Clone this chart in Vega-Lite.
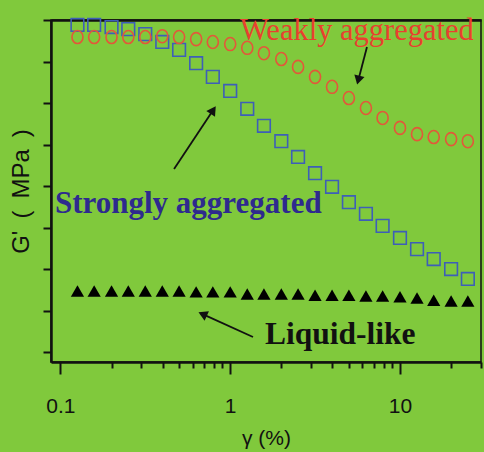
{
  "$schema": "https://vega.github.io/schema/vega-lite/v6.json",
  "autosize": {"type": "none"},
  "padding": {"left": 51, "top": 20, "right": 3, "bottom": 90},
  "width": 430,
  "height": 342,
  "background": "#80c93c",
  "config": {
    "view": {"stroke": "#111", "strokeWidth": 1.5},
    "axis": {"grid": false, "domainColor": "#111", "tickColor": "#111"}
  },
  "datasets": {
    "strong": [
      {"strain": 0.126, "G": 7.88}, {"strain": 0.158, "G": 7.88}, {"strain": 0.2, "G": 7.83},
      {"strain": 0.251, "G": 7.78}, {"strain": 0.316, "G": 7.66}, {"strain": 0.398, "G": 7.47},
      {"strain": 0.5, "G": 7.28}, {"strain": 0.63, "G": 6.96}, {"strain": 0.79, "G": 6.63},
      {"strain": 1.0, "G": 6.29}, {"strain": 1.26, "G": 5.86}, {"strain": 1.58, "G": 5.45},
      {"strain": 2.0, "G": 5.08}, {"strain": 2.51, "G": 4.7}, {"strain": 3.16, "G": 4.31},
      {"strain": 3.98, "G": 3.98}, {"strain": 5.0, "G": 3.61}, {"strain": 6.3, "G": 3.33},
      {"strain": 7.9, "G": 3.04}, {"strain": 10.0, "G": 2.75}, {"strain": 12.6, "G": 2.48},
      {"strain": 15.8, "G": 2.24}, {"strain": 20.0, "G": 2.0}, {"strain": 25.1, "G": 1.76}
    ],
    "weak": [
      {"strain": 0.126, "G": 7.59}, {"strain": 0.158, "G": 7.59}, {"strain": 0.2, "G": 7.59},
      {"strain": 0.251, "G": 7.59}, {"strain": 0.316, "G": 7.59}, {"strain": 0.398, "G": 7.61},
      {"strain": 0.5, "G": 7.59}, {"strain": 0.63, "G": 7.54}, {"strain": 0.79, "G": 7.47},
      {"strain": 1.0, "G": 7.42}, {"strain": 1.26, "G": 7.33}, {"strain": 1.58, "G": 7.2},
      {"strain": 2.0, "G": 7.06}, {"strain": 2.51, "G": 6.87}, {"strain": 3.16, "G": 6.63},
      {"strain": 3.98, "G": 6.39}, {"strain": 5.0, "G": 6.12}, {"strain": 6.3, "G": 5.88},
      {"strain": 7.9, "G": 5.64}, {"strain": 10.0, "G": 5.4}, {"strain": 12.6, "G": 5.25},
      {"strain": 15.8, "G": 5.18}, {"strain": 20.0, "G": 5.13}, {"strain": 25.1, "G": 5.08}
    ],
    "liquid": [
      {"strain": 0.126, "G": 1.47}, {"strain": 0.158, "G": 1.47}, {"strain": 0.2, "G": 1.47},
      {"strain": 0.251, "G": 1.47}, {"strain": 0.316, "G": 1.47}, {"strain": 0.398, "G": 1.47},
      {"strain": 0.5, "G": 1.47}, {"strain": 0.63, "G": 1.45}, {"strain": 0.79, "G": 1.45},
      {"strain": 1.0, "G": 1.45}, {"strain": 1.26, "G": 1.4}, {"strain": 1.58, "G": 1.4},
      {"strain": 2.0, "G": 1.4}, {"strain": 2.51, "G": 1.4}, {"strain": 3.16, "G": 1.37},
      {"strain": 3.98, "G": 1.37}, {"strain": 5.0, "G": 1.37}, {"strain": 6.3, "G": 1.35},
      {"strain": 7.9, "G": 1.35}, {"strain": 10.0, "G": 1.33}, {"strain": 12.6, "G": 1.3},
      {"strain": 15.8, "G": 1.25}, {"strain": 20.0, "G": 1.23}, {"strain": 25.1, "G": 1.23}
    ],
    "arrows": [
      {"name": "strong", "x0": 0.467, "y0": 4.41, "x1": 0.794, "y1": 5.83},
      {"name": "weak", "x0": 6.39, "y0": 7.35, "x1": 5.68, "y1": 6.55},
      {"name": "liquid", "x0": 1.362, "y0": 0.361, "x1": 0.688, "y1": 0.913}
    ],
    "notes": [
      {"name": "weak", "x": 1.142, "y": 7.52, "text": "Weakly aggregated"},
      {"name": "strong", "x": 0.0929, "y": 3.35, "text": "Strongly aggregated"},
      {"name": "liquid", "x": 1.603, "y": 0.193, "text": "Liquid-like"}
    ]
  },
  "resolve": {"axis": {"x": "independent"}},
  "layer": [
    {
      "data": {"name": "strong"},
      "mark": {"type": "point", "shape": "square", "filled": false, "size": 160, "stroke": "#3d5fb8", "strokeWidth": 1.6, "opacity": 1},
      "encoding": {
        "x": {
          "field": "strain", "type": "quantitative",
          "scale": {"type": "log", "domain": [0.088, 30], "nice": false},
          "axis": {
            "orient": "bottom",
            "values": [0.1, 0.2, 0.3, 0.4, 0.5, 0.6, 0.7, 0.8, 0.9, 1, 2, 3, 4, 5, 6, 7, 8, 9, 10, 20, 30],
            "labelExpr": "datum.value == 0.1 ? '0.1' : datum.value == 1 ? '1' : datum.value == 10 ? '10' : ''",
            "labelOverlap": false,
            "labelFlush": false,
            "labelFont": "Liberation Sans",
            "labelFontSize": 21,
            "labelColor": "#111",
            "labelPadding": 21,
            "tickSize": {"condition": {"test": "datum.value == 0.1 || datum.value == 1 || datum.value == 10", "value": 12}, "value": 6},
            "tickWidth": 2,
            "domainWidth": 2.5,
            "title": "γ (%)",
            "titleFont": "Liberation Sans",
            "titleFontSize": 21,
            "titleFontWeight": "normal",
            "titleColor": "#111",
            "titlePadding": 11
          }
        },
        "y": {
          "field": "G", "type": "quantitative",
          "scale": {"domain": [-0.24, 8], "nice": false, "zero": false},
          "axis": {
            "values": [0, 1, 2, 3, 4, 5, 6, 7, 8],
            "labels": false,
            "tickSize": 8,
            "tickWidth": 2,
            "domainWidth": 2.5,
            "title": "G'\u2002(\u2002MPa\u2002)",
            "titleFont": "Liberation Sans",
            "titleFontSize": 24,
            "titleFontWeight": "normal",
            "titleColor": "#111",
            "titlePadding": 9
          }
        }
      }
    },
    {
      "data": {"name": "weak"},
      "mark": {"type": "point", "shape": "M0,-1A0.85,1 0 1,1 0,1A0.85,1 0 1,1 0,-1Z", "filled": false, "size": 169, "stroke": "#e2583a", "strokeWidth": 1.6, "opacity": 1},
      "encoding": {
        "x": {"field": "strain", "type": "quantitative", "axis": null},
        "y": {"field": "G", "type": "quantitative"}
      }
    },
    {
      "data": {"name": "liquid"},
      "mark": {"type": "point", "shape": "triangle-up", "filled": true, "size": 175, "fill": "#000", "opacity": 1},
      "encoding": {
        "x": {"field": "strain", "type": "quantitative",
              "axis": {"orient": "top", "labels": false, "ticks": false, "title": null, "domainWidth": 2.5}},
        "y": {"field": "G", "type": "quantitative"}
      }
    },
    {
      "data": {"name": "arrows"},
      "mark": {"type": "rule", "stroke": "#111", "strokeWidth": 1.8},
      "encoding": {
        "x": {"field": "x0", "type": "quantitative", "axis": null},
        "y": {"field": "y0", "type": "quantitative"},
        "x2": {"field": "x1"},
        "y2": {"field": "y1"}
      }
    },
    {
      "data": {"name": "arrows"},
      "transform": [{"filter": "datum.name == 'strong'"}],
      "mark": {"type": "point", "shape": "triangle-up", "filled": true, "size": 110, "fill": "#111", "opacity": 1, "angle": 33.7},
      "encoding": {
        "x": {"field": "x1", "type": "quantitative", "axis": null},
        "y": {"field": "y1", "type": "quantitative"}
      }
    },
    {
      "data": {"name": "arrows"},
      "transform": [{"filter": "datum.name == 'weak'"}],
      "mark": {"type": "point", "shape": "triangle-up", "filled": true, "size": 110, "fill": "#111", "opacity": 1, "angle": 194.7},
      "encoding": {
        "x": {"field": "x1", "type": "quantitative", "axis": null},
        "y": {"field": "y1", "type": "quantitative"}
      }
    },
    {
      "data": {"name": "arrows"},
      "transform": [{"filter": "datum.name == 'liquid'"}],
      "mark": {"type": "point", "shape": "triangle-up", "filled": true, "size": 110, "fill": "#111", "opacity": 1, "angle": 294.4},
      "encoding": {
        "x": {"field": "x1", "type": "quantitative", "axis": null},
        "y": {"field": "y1", "type": "quantitative"}
      }
    },
    {
      "data": {"name": "notes"},
      "transform": [{"filter": "datum.name == 'weak'"}],
      "mark": {"type": "text", "align": "left", "baseline": "alphabetic", "font": "Liberation Serif", "fontSize": 30.5, "fill": "#e8402f"},
      "encoding": {
        "x": {"field": "x", "type": "quantitative", "axis": null},
        "y": {"field": "y", "type": "quantitative"},
        "text": {"field": "text"}
      }
    },
    {
      "data": {"name": "notes"},
      "transform": [{"filter": "datum.name == 'strong'"}],
      "mark": {"type": "text", "align": "left", "baseline": "alphabetic", "font": "Liberation Serif", "fontSize": 31, "fontWeight": "bold", "fill": "#2e2a8e"},
      "encoding": {
        "x": {"field": "x", "type": "quantitative", "axis": null},
        "y": {"field": "y", "type": "quantitative"},
        "text": {"field": "text"}
      }
    },
    {
      "data": {"name": "notes"},
      "transform": [{"filter": "datum.name == 'liquid'"}],
      "mark": {"type": "text", "align": "left", "baseline": "alphabetic", "font": "Liberation Serif", "fontSize": 31.5, "fontWeight": "bold", "fill": "#111"},
      "encoding": {
        "x": {"field": "x", "type": "quantitative", "axis": null},
        "y": {"field": "y", "type": "quantitative"},
        "text": {"field": "text"}
      }
    }
  ]
}
